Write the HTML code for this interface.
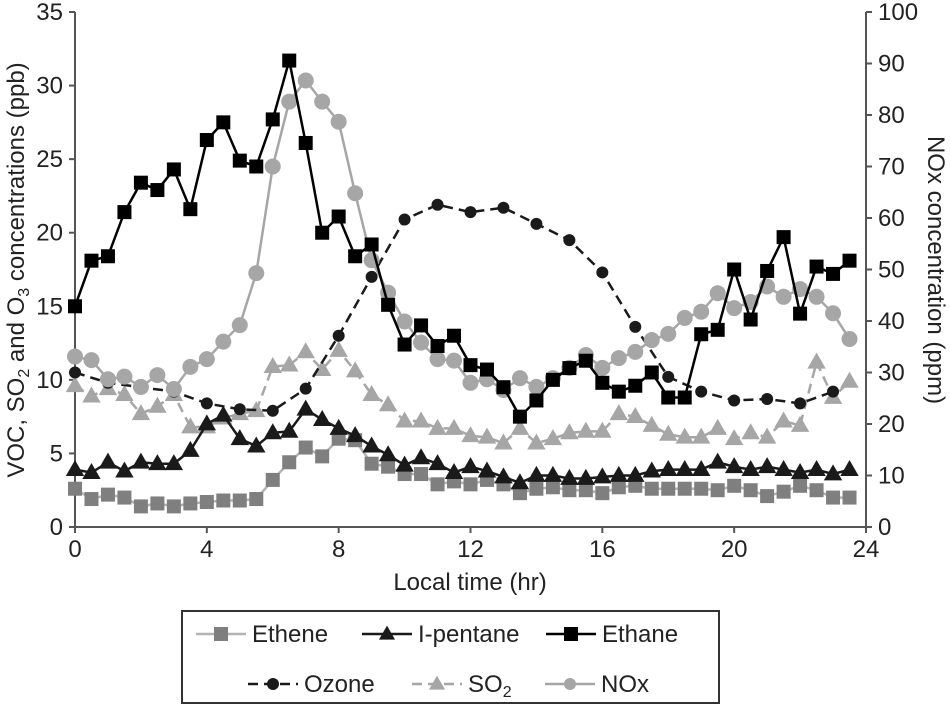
<!DOCTYPE html>
<html><head><meta charset="utf-8"><style>
body{margin:0;background:#fff;font-family:"Liberation Sans",sans-serif}
svg text{font-family:"Liberation Sans",sans-serif;fill:#222}
</style></head><body>
<svg id="chart" width="950" height="706" viewBox="0 0 950 706" xmlns="http://www.w3.org/2000/svg">
<g id="axes"></g>
<g id="series"></g>
<text x="470" y="590" font-size="24" text-anchor="middle">Local time (hr)</text>
<text transform="translate(24,270) rotate(-90)" font-size="24" text-anchor="middle">VOC, SO<tspan font-size="16" dy="5">2</tspan><tspan dy="-5"> and O</tspan><tspan font-size="16" dy="5">3</tspan><tspan dy="-5"> concentrations (ppb)</tspan></text>
<text transform="translate(928,270) rotate(90)" font-size="24" text-anchor="middle">NOx concentration (ppm)</text>
<g id="legend"></g>
</svg>
<script>
const hoursHalf = [];
for (let i = 0; i < 48; i++) hoursHalf.push(i / 2);
const hoursFull = [0,1,2,3,4,5,6,7,8,9,10,11,12,13,14,15,16,17,18,19,20,21,22,23];
const leftTicks = [0,5,10,15,20,25,30,35];
const rightTicks = [0,10,20,30,40,50,60,70,80,90,100];
const xTicks = [0,4,8,12,16,20,24];
const ethane = [15.0,18.1,18.4,21.4,23.4,22.9,24.3,21.6,26.3,27.5,24.9,24.5,27.7,31.7,26.1,20.0,21.1,18.4,19.2,15.1,12.4,13.7,12.3,13.0,11.0,10.7,9.5,7.5,8.6,10.0,10.8,11.3,9.8,9.2,9.6,10.5,8.8,8.8,13.1,13.4,17.5,14.1,17.4,19.7,14.5,17.7,17.2,18.1];
const ipentane = [3.9,3.7,4.4,3.8,4.4,4.3,4.3,5.2,7.0,7.6,6.0,5.5,6.4,6.5,8.0,7.3,6.7,6.2,5.5,4.9,4.2,4.7,4.3,3.7,4.1,3.8,3.4,3.0,3.5,3.5,3.3,3.3,3.4,3.5,3.5,3.8,3.9,3.9,3.9,4.4,4.1,3.9,4.1,3.9,3.7,3.9,3.6,3.9];
const ethene = [2.6,1.9,2.2,2.0,1.4,1.6,1.4,1.6,1.7,1.8,1.8,1.9,3.2,4.4,5.4,4.8,6.0,5.9,4.3,4.1,3.6,3.6,2.9,3.1,2.9,3.2,2.9,2.3,2.6,2.7,2.5,2.5,2.3,2.7,2.8,2.6,2.6,2.6,2.6,2.5,2.8,2.5,2.1,2.4,2.8,2.5,2.0,2.0];
const so2 = [9.6,8.9,9.4,9.0,7.7,8.2,9.0,6.8,6.8,7.4,7.7,7.9,10.9,11.0,11.9,10.7,12.0,10.6,9.0,8.3,7.2,7.2,6.7,6.7,6.2,6.1,5.7,6.7,5.7,6.0,6.4,6.5,6.5,7.7,7.5,6.9,6.3,6.1,6.1,6.7,6.0,6.4,6.1,7.2,6.9,11.2,8.8,9.9];
const ozone = [10.5,9.8,9.5,9.2,8.4,8.0,7.9,9.4,13.0,17.0,20.9,21.9,21.4,21.7,20.6,19.5,17.3,13.6,10.2,9.2,8.6,8.7,8.4,9.2];
const nox = [33.1,32.4,28.7,29.2,27.2,29.5,26.8,31.1,32.6,36.0,39.2,49.3,70.0,82.6,86.7,82.6,78.7,64.8,51.8,45.5,39.9,35.8,32.6,32.3,28.0,28.7,26.6,28.9,27.2,28.9,30.9,33.4,30.9,32.8,34.0,36.3,37.5,40.6,41.8,45.4,42.5,43.7,46.7,44.7,46.2,44.7,41.5,36.5];

const X0=75, X1=866, Y0=527, Y1=12;
const xs = h => X0 + (X1-X0)*h/24;
const yl = v => Y0 - (Y0-Y1)*v/35;
const yr = v => Y0 - (Y0-Y1)*v/100;
const NS="http://www.w3.org/2000/svg";
function mk(tag, attrs, parent){const e=document.createElementNS(NS,tag);for(const k in attrs)e.setAttribute(k,attrs[k]);parent.appendChild(e);return e;}

const axes=document.getElementById('axes');
let e;
e=mk('line',{x1:X0,y1:Y1,x2:X0,y2:Y0,stroke:'#555','stroke-width':2},axes);


e=mk('line',{x1:X1,y1:Y1,x2:X1,y2:Y0,stroke:'#555','stroke-width':2},axes);


e=mk('line',{x1:X0,y1:Y0,x2:X1,y2:Y0,stroke:'#555','stroke-width':2},axes);


leftTicks.forEach(t=>{
  mk('line',{x1:X0-6,y1:yl(t),x2:X0,y2:yl(t),stroke:'#555','stroke-width':2},axes);
  e=mk('text',{x:X0-12,y:yl(t)+8,'font-size':24,'text-anchor':'end'},axes);
  e.textContent=t;
  
  
});
rightTicks.forEach(t=>{
  mk('line',{x1:X1,y1:yr(t),x2:X1+6,y2:yr(t),stroke:'#555','stroke-width':2},axes);
  e=mk('text',{x:X1+12,y:yr(t)+8,'font-size':24,'text-anchor':'start'},axes);
  e.textContent=t;
  
  
});
xTicks.forEach(t=>{
  mk('line',{x1:xs(t),y1:Y0,x2:xs(t),y2:Y0+6,stroke:'#555','stroke-width':2},axes);
  e=mk('text',{x:xs(t),y:Y0+30,'font-size':24,'text-anchor':'middle'},axes);
  e.textContent=t;
  
  
});

function marker(g,shape,x,y,fill,s){
  if(shape==='sq') return mk('rect',{x:x-s,y:y-s,width:2*s,height:2*s,fill:fill},g);
  if(shape==='tri') return mk('polygon',{points:`${x},${y-s*1.2} ${x-s*1.15},${y+s*0.8} ${x+s*1.15},${y+s*0.8}`,fill:fill},g);
  return mk('circle',{cx:x,cy:y,r:s,fill:fill},g);
}
const ser=document.getElementById('series');
function drawSeries(name,hrs,vals,yf,lineCol,dash,mShape,mCol,ms,lw){
  const g=mk('g',{},ser);
  
  
  const pts=hrs.map((h,i)=>xs(h)+','+yf(vals[i])).join(' ');
  const l=mk('polyline',{points:pts,fill:'none',stroke:lineCol,'stroke-width':lw,'stroke-dasharray':dash||'none'},g);
  
  
  hrs.forEach((h,i)=>{
    const m=marker(g,mShape,xs(h),yf(vals[i]),mCol,ms);
    
    
  });
}
drawSeries('so2',hoursHalf,so2,yl,'#a6a6a6','10,6','tri','#a6a6a6',8,2.5);
drawSeries('ethene',hoursHalf,ethene,yl,'#b3b3b3',null,'sq','#7f7f7f',7,2.5);
drawSeries('i-pentane',hoursHalf,ipentane,yl,'#1a1a1a',null,'tri','#1a1a1a',8,2.5);
drawSeries('ozone',hoursFull,ozone,yl,'#1a1a1a','10,6','circ','#1a1a1a',6,2.5);
drawSeries('nox',hoursHalf,nox,yr,'#a6a6a6',null,'circ','#a6a6a6',8,2.5);
drawSeries('ethane',hoursHalf,ethane,yl,'#000',null,'sq','#000',7,2.5);

const leg=document.getElementById('legend');
e=mk('rect',{x:182,y:611,width:537,height:92,fill:'#fff',stroke:'#333','stroke-width':2},leg);


const entries=[
 ['Ethene',196,634,'#b3b3b3',null,'sq','#7f7f7f'],
 ['I-pentane',362,634,'#1a1a1a',null,'tri','#1a1a1a'],
 ['Ethane',546,634,'#000',null,'sq','#000'],
 ['Ozone',248,684,'#1a1a1a','10,6','circ','#1a1a1a'],
 ['SO2',412,684,'#a6a6a6','10,6','tri','#a6a6a6'],
 ['NOx',545,684,'#a6a6a6',null,'circ','#a6a6a6']];
entries.forEach(en=>{
  const g=mk('g',{},leg);
  
  
  mk('line',{x1:en[1],y1:en[2],x2:en[1]+50,y2:en[2],stroke:en[3],'stroke-width':2.5,'stroke-dasharray':en[4]||'none'},g);
  marker(g,en[5],en[1]+25,en[2],en[6],en[5]==='circ'?6:7);
  const t=mk('text',{x:en[1]+56,y:en[2]+8,'font-size':24},g);
  if(en[0]==='SO2'){t.innerHTML='SO<tspan font-size="16" dy="5">2</tspan>';}
  else t.textContent=en[0];
});
</script>
</body></html>
